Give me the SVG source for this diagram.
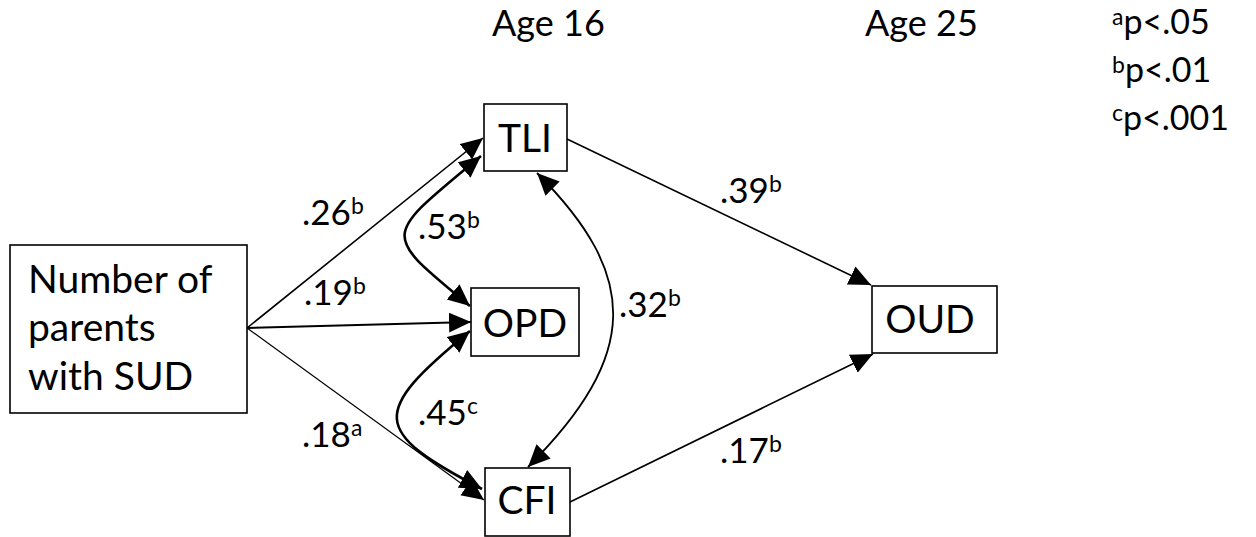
<svg xmlns="http://www.w3.org/2000/svg" width="1256" height="537" viewBox="0 0 1256 537">
<style>
.box{fill:#fff;stroke:#000;stroke-width:1.6}
.t{font-family:Lato,"Open Sans","Liberation Sans",sans-serif;fill:#000}
.node{font-size:39px}
.lbl{font-size:35px}
.sup{font-size:23px}
.hdr{font-size:36px}
.leg{font-size:34px}
.ln{fill:none;stroke:#000}
</style>
<defs>
<marker id="ah" markerUnits="userSpaceOnUse" markerWidth="24" markerHeight="22" refX="22" refY="10" orient="auto-start-reverse" viewBox="0 0 24 22">
<path d="M0,0 L22,10 L0,20 Z" fill="#000"/>
</marker>
</defs>
<rect width="1256" height="537" fill="#fff"/>
<g id="connectors">
<line class="ln" x1="247" y1="328" x2="483" y2="138" stroke-width="1.6" marker-end="url(#ah)"/>
<line class="ln" x1="247" y1="328" x2="471" y2="322" stroke-width="2" marker-end="url(#ah)"/>
<line class="ln" x1="247" y1="328" x2="484" y2="500" stroke-width="1.2" marker-end="url(#ah)"/>
<path class="ln" d="M481,156 C381,239 381,232 470,306" stroke-width="2.6" marker-start="url(#ah)" marker-end="url(#ah)"/>
<path class="ln" d="M470,331 C370,413 371,431 482,489" stroke-width="2.6" marker-start="url(#ah)" marker-end="url(#ah)"/>
<path class="ln" d="M537,173 C640,276 640,355 528,467" stroke-width="1.8" marker-start="url(#ah)" marker-end="url(#ah)"/>
<line class="ln" x1="567" y1="139" x2="871" y2="285" stroke-width="1.6" marker-end="url(#ah)"/>
<line class="ln" x1="570" y1="502" x2="873" y2="354" stroke-width="1.6" marker-end="url(#ah)"/>
</g>
<g id="edge-labels" class="t lbl">
<text x="302" y="225">.26<tspan class="sup" dy="-11">b</tspan></text>
<text x="304" y="305">.19<tspan class="sup" dy="-11">b</tspan></text>
<text x="302" y="447">.18<tspan class="sup" dy="-11">a</tspan></text>
<text x="418" y="239">.53<tspan class="sup" dy="-11">b</tspan></text>
<text x="418" y="425">.45<tspan class="sup" dy="-11">c</tspan></text>
<text x="619" y="317">.32<tspan class="sup" dy="-11">b</tspan></text>
<text x="720" y="203">.39<tspan class="sup" dy="-11">b</tspan></text>
<text x="720" y="463">.17<tspan class="sup" dy="-11">b</tspan></text>
</g>
<g id="node-parents">
<rect class="box" x="10" y="245" width="237" height="168"/>
<text class="t node" x="28" y="293">Number of</text>
<text class="t node" x="28" y="341">parents</text>
<text class="t node" x="28" y="390">with SUD</text>
</g>
<g id="node-tli">
<rect class="box" x="484" y="104" width="83" height="67"/>
<text class="t node" x="525" y="152" text-anchor="middle">TLI</text>
</g>
<g id="node-opd">
<rect class="box" x="471" y="288" width="108" height="68"/>
<text class="t node" x="525" y="337" text-anchor="middle">OPD</text>
</g>
<g id="node-cfi">
<rect class="box" x="485" y="468" width="85" height="68"/>
<text class="t node" x="527" y="514" text-anchor="middle">CFI</text>
</g>
<g id="node-oud">
<rect class="box" x="872" y="286" width="125" height="67"/>
<text class="t node" x="930" y="333" text-anchor="middle">OUD</text>
</g>
<g id="headers" class="t hdr">
<text x="492" y="36">Age 16</text>
<text x="865" y="36">Age 25</text>
</g>
<g id="legend" class="t leg">
<text x="1112" y="34"><tspan font-size="23" dy="-9">a</tspan><tspan dy="9">p&lt;.05</tspan></text>
<text x="1112" y="82"><tspan font-size="23" dy="-9">b</tspan><tspan dy="9">p&lt;.01</tspan></text>
<text x="1112" y="130"><tspan font-size="23" dy="-9">c</tspan><tspan dy="9">p&lt;.001</tspan></text>
</g>
</svg>
